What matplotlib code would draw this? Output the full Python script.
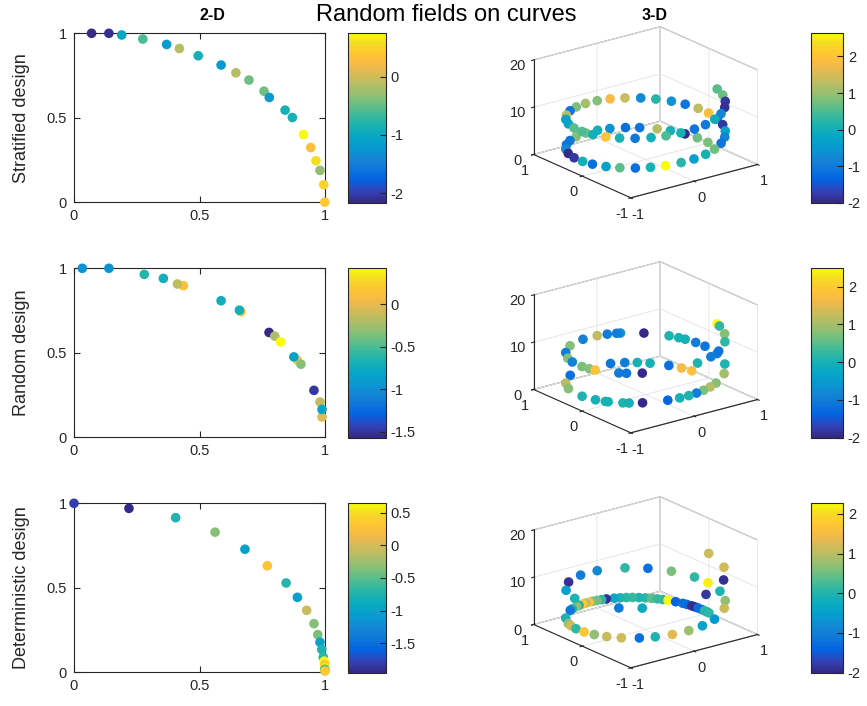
import matplotlib
matplotlib.use("Agg")
import matplotlib.pyplot as plt
from matplotlib.colors import LinearSegmentedColormap
from matplotlib.ticker import FormatStrFormatter
import numpy as np

plt.rcParams["font.family"] = ["Liberation Sans", "DejaVu Sans"]
plt.rcParams["axes.unicode_minus"] = False
plt.rcParams["grid.color"] = "#e3e3e3"
plt.rcParams["grid.linewidth"] = 0.6

# MATLAB parula, every 4th entry of the 64-colour table
PARULA_IDX = [0, 4, 8, 12, 16, 20, 24, 28, 32, 36, 40, 44, 48, 52, 56, 60, 63]
PARULA_RGB = [
    (0.2081, 0.1663, 0.5292), (0.1959, 0.2645, 0.7279), (0.0117, 0.3875, 0.8820),
    (0.0498, 0.4586, 0.8641), (0.0793, 0.5200, 0.8312), (0.0343, 0.5966, 0.8199),
    (0.0228, 0.6535, 0.7768), (0.0843, 0.6928, 0.7062), (0.2178, 0.7250, 0.6193),
    (0.3953, 0.7459, 0.5244), (0.5709, 0.7485, 0.4494), (0.7184, 0.7411, 0.3905),
    (0.8507, 0.7299, 0.3360), (0.9739, 0.7314, 0.2666), (0.9955, 0.7861, 0.1967),
    (0.9626, 0.8705, 0.1309), (0.9763, 0.9831, 0.0538),
]
parula = LinearSegmentedColormap.from_list(
    "parula", [(i / 63, c) for i, c in zip(PARULA_IDX, PARULA_RGB)], N=64)

row_labels = ["Stratified design", "Random design", "Deterministic design"]

# ---- 2-D: points on the quarter circle ----
strat2_x = [0.070, 0.139, 0.19, 0.274, 0.369, 0.42, 0.495, 0.586, 0.645, 0.697,
            0.757, 0.778, 0.841, 0.87, 0.914, 0.943, 0.964, 0.98, 0.995, 0.999]
strat2_y = [1.0, 1.0, 0.99, 0.966, 0.934, 0.91, 0.867, 0.812, 0.766, 0.723,
            0.657, 0.62, 0.545, 0.501, 0.40, 0.323, 0.245, 0.188, 0.103, 0.0]
strat2_v = [-2.16, -2.08, -1.05, -0.59, -1.2, -0.12, -0.85, -1.2, -0.15, -0.47,
            -0.45, -1.2, -0.85, -0.85, 0.75, 0.28, 0.57, -0.3, 0.49, 0.4]

rand2_x = [0.033, 0.139, 0.28, 0.356, 0.436, 0.412, 0.586, 0.665, 0.659, 0.777,
           0.80, 0.823, 0.89, 0.876, 0.904, 0.956, 0.98, 0.988, 0.988]
rand2_y = [1.0, 1.0, 0.964, 0.94, 0.897, 0.907, 0.808, 0.743, 0.752, 0.62,
           0.598, 0.564, 0.455, 0.475, 0.432, 0.277, 0.208, 0.119, 0.164]
rand2_v = [-0.95, -0.95, -0.62, -0.72, 0.12, -0.15, -0.72, 0.12, -0.72, -1.57,
           -0.2, 0.43, 0.15, -0.85, -0.35, -1.5, -0.15, -0.01, -0.85]

det2_x = [0.0, 0.219, 0.405, 0.562, 0.681, 0.77, 0.845, 0.89, 0.927, 0.956,
          0.971, 0.98, 0.987, 0.993, 0.997, 0.998, 0.999, 0.999, 1.0]
det2_y = [1.0, 0.97, 0.915, 0.829, 0.728, 0.63, 0.528, 0.443, 0.366, 0.287,
          0.222, 0.177, 0.134, 0.089, 0.065, 0.045, 0.026, 0.016, 0.006]
det2_v = [-1.8, -1.95, -0.75, -0.35, -1.05, 0.3, -0.7, -1.05, -0.05, -0.35,
          -0.4, -1.0, -0.75, -0.65, 0.65, 0.3, 0.55, -0.6, 0.35]

# ---- 3-D: points on the helix (cos t, sin t, t), given by t ----
strat3_t = [0.02, 0.21, 0.40, 0.60, 0.77, 0.99, 1.17, 1.38, 1.56, 1.76,
            1.97, 2.16, 2.35, 2.55, 2.74, 2.95, 3.15, 3.33, 3.54, 3.73,
            3.93, 4.12, 4.31, 4.52, 4.71, 4.91, 5.10, 5.30, 5.50, 5.69,
            5.89, 6.08, 6.29, 6.48, 6.68, 6.87, 7.07, 7.26, 7.46, 7.66,
            7.85, 8.05, 8.25, 8.44, 8.64, 8.83, 9.03, 9.23, 9.42, 9.62,
            9.82, 10.01, 10.21, 10.41, 10.60, 10.80, 11.00, 11.19, 11.39, 11.58,
            11.78, 11.97, 12.17, 12.37]
strat3_v = [0.8, 0.7, -2.0, 0.1, 1.2, -1.1, -1.2, -0.6, 0.0, 0.7,
            0.9, -1.0, -1.1, -0.7, -2.0, -1.8, 0.0, -1.2, -0.3, 0.6,
            -1.2, 0.1, 2.65, 0.2, -0.4, 0.1, 0.7, -1.1, -0.9, -0.3,
            -1.8, -1.0, 1.9, 1.3, -1.1, -0.6, 0.2, -0.7, 1.4, 1.8,
            0.9, 1.1, 0.8, -1.1, 1.2, -0.4, -0.3, 0.6, 0.5, 0.0,
            2.0, 0.1, -1.0, 0.0, 0.5, 0.1, -1.1, -1.0, -0.1, -0.8,
            -1.9, -1.8, 0.7, 0.6]

rand3_t = [0.30, 0.45, 0.62, 0.86, 1.02, 1.18, 1.37, 2.15, 2.50, 2.75,
           3.14, 3.38, 3.53, 3.57, 3.77, 3.85, 4.02, 4.34, 4.50, 4.63,
           4.75, 4.87, 5.00, 5.14, 5.45, 5.75, 6.09, 6.36, 6.52, 6.68,
           6.77, 6.90, 7.22, 7.52, 7.57, 7.70, 7.85, 8.10, 8.44, 8.75,
           9.00, 9.18, 9.42, 9.56, 9.66, 10.0, 10.1, 10.3, 11.05, 11.3,
           11.5, 11.8, 12.05, 12.3, 12.37]
rand3_v = [1.8, 1.7, -1.2, 0.0, 0.0, -1.0, -1.1, -1.2, 1.1, 0.8,
           0.1, 0.0, 0.1, 0.0, 0.1, 0.0, -2.0, -1.3, 0.0, 0.1,
           -1.0, 0.7, 1.1, 0.8, 1.0, 0.1, -1.0, -1.1, -1.0, 0.0,
           0.0, 0.1, -2.0, -0.7, -1.0, -1.0, 1.2, -0.9, 0.8, -1.0,
           0.8, -0.9, 0.7, 0.8, 1.9, -1.0, -1.1, -2.0, 0.1, -1.0,
           -1.1, 0.2, 0.8, 0.2, 2.5]

det3_t = [0.00, 0.04, 0.08, 0.13, 0.20, 0.25, 0.30, 0.37, 0.43, 0.53,
          0.63, 0.70, 0.77, 0.84, 0.92, 1.00, 1.08, 1.16, 1.24, 1.32,
          1.43, 1.50, 1.57, 1.64, 1.70, 1.77, 1.82, 1.90, 1.96, 2.08,
          2.15, 2.50, 2.75, 2.85, 3.00, 3.18, 3.36, 3.55, 3.75, 3.98,
          4.18, 4.40, 4.63, 4.85, 5.10, 5.46, 5.70, 6.00, 6.30, 6.54,
          6.87, 7.17, 7.46, 7.85, 8.15, 8.50, 8.87, 9.25, 10.0, 10.3,
          11.2, 11.7, 12.1, 12.57]
det3_v = [0.1, 0.0, 0.2, -1.2, -1.3, -2.0, -1.9, -1.3, -1.2, -1.4,
          2.28, 0.1, 0.2, 0.4, 0.1, 0.0, 0.2, 0.1, 0.0, -0.3,
          -1.9, 0.1, 0.5, 0.6, 1.6, 1.0, 1.7, 0.0, 0.7, 0.0,
          -1.1, 0.0, 0.7, 1.2, 0.1, 1.7, 0.7, 1.1, 1.2, -1.2,
          0.0, 1.3, 0.8, -0.4, -0.6, 1.1, 0.7, 0.0, 2.2, 0.1,
          0.6, -1.2, 0.1, -0.8, -1.0, -1.9, -0.5, 0.0, -1.1, -0.3,
          -1.8, -1.9, 1.2, 1.1]

rows2 = [(strat2_x, strat2_y, strat2_v), (rand2_x, rand2_y, rand2_v),
         (det2_x, det2_y, det2_v)]
rows3 = [(strat3_t, strat3_v), (rand3_t, rand3_v), (det3_t, det3_v)]
cbar2_ticks = [[-2, -1, 0], [-1.5, -1, -0.5, 0], [-1.5, -1, -0.5, 0, 0.5]]
cbar3_ticks = [-2, -1, 0, 1, 2]

W, H = 867, 706
AXC = "#262626"
fig = plt.figure(figsize=(W / 100, H / 100), dpi=100)

def rect(x0, y0, x1, y1):
    # pixel box (top-left origin) -> figure fraction
    return [x0 / W, 1 - y1 / H, (x1 - x0) / W, (y1 - y0) / H]

row_tops = [33.3, 268.3, 503.3]
row_h = 168.8

def style_cbar(cb, ticks):
    cb.set_ticks(ticks)
    cb.ax.yaxis.set_major_formatter(FormatStrFormatter("%g"))
    cb.ax.tick_params(direction="in", length=4, width=0.8, labelsize=10.5,
                      color=AXC, labelcolor=AXC)
    cb.outline.set_edgecolor(AXC)
    cb.outline.set_linewidth(0.8)

for i in range(3):
    top = row_tops[i]
    bot = top + row_h

    # 2-D panel
    x, y, v = rows2[i]
    ax = fig.add_axes(rect(74, top, 325, bot))
    sc = ax.scatter(x, y, c=v, cmap=parula, vmin=min(v), vmax=max(v),
                    s=48, edgecolors="none", clip_on=False, zorder=3)
    ax.set_xlim(0, 1)
    ax.set_ylim(0, 1)
    ax.set_xticks([0, 0.5, 1])
    ax.set_yticks([0, 0.5, 1])
    ax.xaxis.set_major_formatter(FormatStrFormatter("%g"))
    ax.yaxis.set_major_formatter(FormatStrFormatter("%g"))
    ax.tick_params(direction="in", top=True, right=True, length=4, width=0.8,
                   labelsize=10.5, color=AXC, labelcolor=AXC, pad=5)
    for sp in ax.spines.values():
        sp.set_color(AXC)
        sp.set_linewidth(0.8)
    ax.set_ylabel(row_labels[i], fontsize=13, color=AXC, labelpad=12)

    cax = fig.add_axes(rect(348, top - 0.6, 386, bot + 0.6))
    style_cbar(fig.colorbar(sc, cax=cax), cbar2_ticks[i])

    # 3-D panel
    t, v3 = rows3[i]
    t = np.asarray(t)
    cx, cy, S = 641.5, top + 83, 300
    ax3 = fig.add_axes(rect(cx - S / 2, cy - S / 2, cx + S / 2, cy + S / 2),
                       projection="3d")
    ax3.set_facecolor("none")
    ax3.set_proj_type("ortho")
    ax3.view_init(elev=20, azim=-127.5)
    ax3.set_box_aspect((1, 1, 0.63), zoom=0.8)
    sc3 = ax3.scatter(np.cos(t), np.sin(t), t, c=v3, cmap=parula,
                      vmin=min(v3), vmax=max(v3), s=48, edgecolors="none",
                      depthshade=False)
    ax3.set_xlim(-1, 1)
    ax3.set_ylim(-1, 1)
    ax3.set_zlim(0, 20)
    ax3.set_xticks([-1, 0, 1])
    ax3.set_yticks([-1, 0, 1])
    ax3.set_zticks([0, 10, 20])
    for a in (ax3.xaxis, ax3.yaxis, ax3.zaxis):
        a.pane.set_facecolor("white")
        a.pane.set_edgecolor(AXC)
        a.pane.set_linewidth(0.8)
        a.line.set_color(AXC)
        a.line.set_linewidth(0.8)
        a.set_major_formatter(FormatStrFormatter("%g"))
    ax3.tick_params(labelsize=10.5, colors=AXC, pad=0)

    cax3 = fig.add_axes(rect(811, top - 0.6, 843, bot + 0.6))
    style_cbar(fig.colorbar(sc3, cax=cax3), cbar3_ticks)

fig.text(212 / W, 1 - 15 / H, "2-D", ha="center", va="center",
         fontsize=11.5, fontweight="bold", color="black")
fig.text(655 / W, 1 - 15 / H, "3-D", ha="center", va="center",
         fontsize=11.5, fontweight="bold", color="black")
fig.text(446 / W, 1 - 15 / H, "Random fields on curves", ha="center",
         va="center", fontsize=17, color="black")

fig.savefig("out.png", dpi=100)
